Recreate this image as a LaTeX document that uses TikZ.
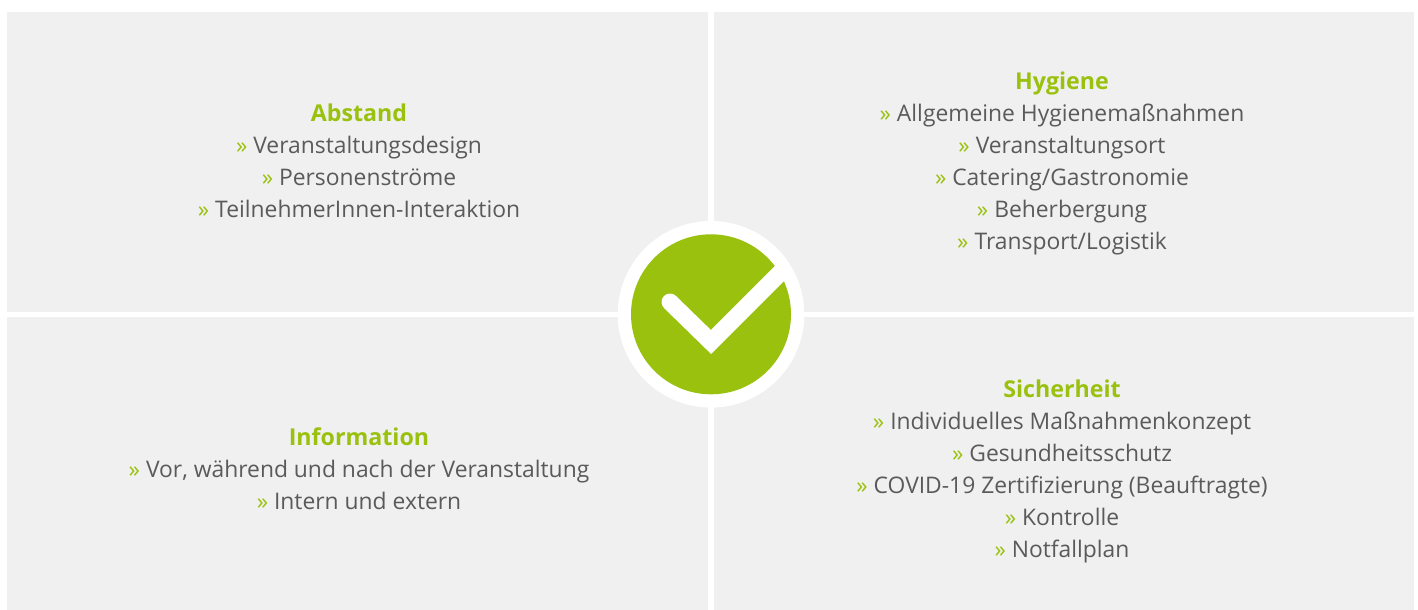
\documentclass[tikz,border=0pt]{standalone}
\usepackage{fontspec}
\setmainfont{Open Sans}
\definecolor{brand}{HTML}{99C10D}
\definecolor{panel}{HTML}{F0F0F0}
\definecolor{body}{HTML}{5A5A5A}
\newcommand{\gi}{{\color{brand}»} }
\newcommand{\hd}[1]{{\fontsize{23.2pt}{32pt}\selectfont\bfseries\color{brand}#1}}
\tikzset{
  panelbox/.style={fill=panel,draw=none},
  block/.style={align=center,inner sep=0pt,text=body,
    font=\fontsize{22.85pt}{32pt}\selectfont},
}
\begin{document}
\begin{tikzpicture}[x=1pt,y=-1pt]
\useasboundingbox (0,0) rectangle (1418,610);
\fill[white] (0,0) rectangle (1418,610);
\path[panelbox] (7,12) rectangle (708,311.5);
\path[panelbox] (713.7,12) rectangle (1414,311.5);
\path[panelbox] (7,317) rectangle (708,610);
\path[panelbox] (713.7,317) rectangle (1414,610);
\fill[white] (711,314.3) circle[radius=93.3];
\fill[brand] (711,314.3) circle[radius=80];
\draw[white,line width=17pt,line cap=round,miter limit=10] (670,302) -- (711,342) -- (783,270);
\node[block] (abstand) at (359,161) {\hd{Abstand}\\ \gi Veranstaltungsdesign\\ \gi Personenströme\\ \gi TeilnehmerInnen-Interaktion};
\node[block] (hygiene) at (1062,163.5) {\hd{Hygiene}\\ \gi Allgemeine Hygienemaßnahmen\\ \gi Veranstaltungsort\\ \gi Catering/Gastronomie\\ \gi Beherbergung\\ \gi Transport/Logistik};
\node[block] (information) at (359,468.8) {\hd{Information}\\ \gi Vor, während und nach der Veranstaltung\\ \gi Intern und extern};
\node[block] (sicherheit) at (1062,471.5) {\hd{Sicherheit}\\ \gi Individuelles Maßnahmenkonzept\\ \gi Gesundheitsschutz\\ \gi COVID-19 Zertifizierung (Beauftragte)\\ \gi Kontrolle\\ \gi Notfallplan};
\end{tikzpicture}
\end{document}
